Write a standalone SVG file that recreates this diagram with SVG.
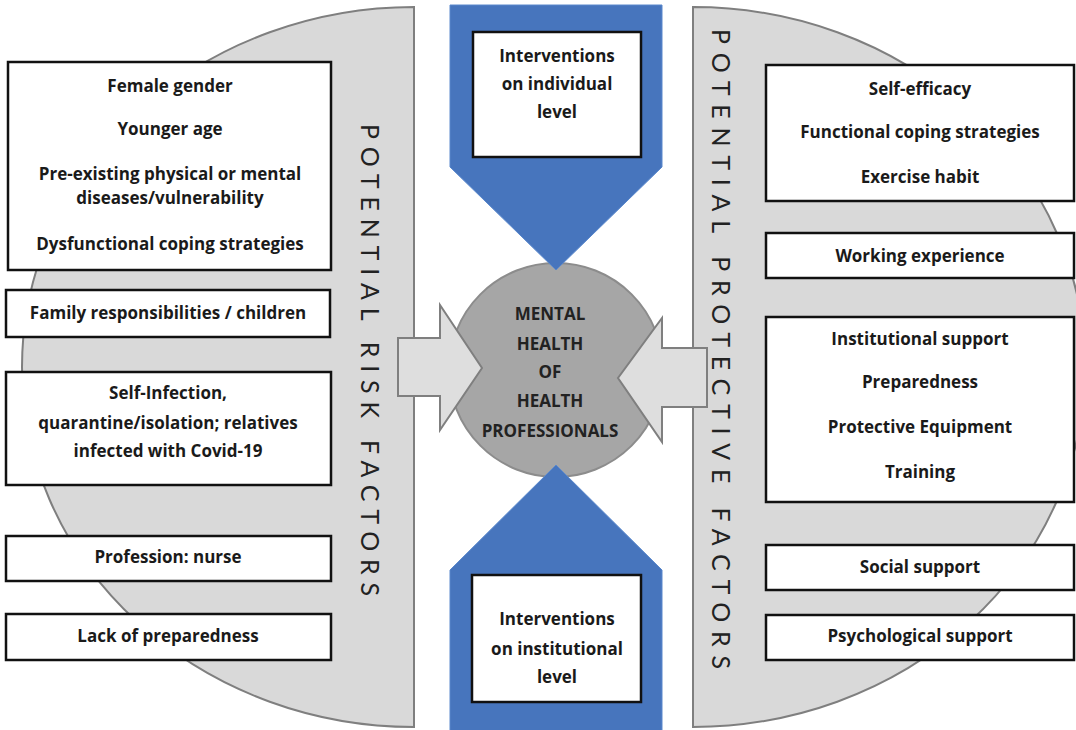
<svg xmlns="http://www.w3.org/2000/svg" width="1076" height="730" viewBox="0 0 1076 730">
  <style>
    .half { fill: #d9d9d9; stroke: #7f7f7f; stroke-width: 2; }
    .box { fill: #ffffff; stroke: #111111; stroke-width: 2.5; }
    .t { font-family: "Open Sans", "Liberation Sans", sans-serif; font-weight: bold; font-size: 17px; fill: #1a1a1a; text-anchor: middle; }
    .vt { font-family: Lato, "Liberation Sans", sans-serif; font-weight: normal; font-size: 25px; fill: #222222; text-anchor: middle; }
    .ct { font-family: "Open Sans", "Liberation Sans", sans-serif; font-weight: bold; font-size: 17px; fill: #222222; text-anchor: middle; }
    .blue { fill: #4775bd; stroke: #5a88cc; stroke-width: 1; }
    .arrow { fill: #dedede; stroke: #7f7f7f; stroke-width: 2; }
  </style>

  <!-- background half discs -->
  <g id="risk-panel">
    <path class="half" d="M414,7 A392,360 0 0 0 414,727 Z"/>
    <text class="vt" transform="translate(361,360) rotate(90)" textLength="472" lengthAdjust="spacing">POTENTIAL RISK FACTORS</text>
  </g>
  <g id="protective-panel">
    <path class="half" d="M693,7 A392,360 0 0 1 693,727 Z"/>
    <text class="vt" transform="translate(712,349) rotate(90)" textLength="640" lengthAdjust="spacing">POTENTIAL PROTECTIVE FACTORS</text>
  </g>

  <!-- central node -->
  <g id="mental-health">
    <circle cx="556" cy="370" r="107" fill="#a6a6a6" stroke="#8c8c8c" stroke-width="2"/>
  </g>

  <!-- connectors: arrows pointing at the centre -->
  <g id="connectors">
    <polygon class="arrow" points="398,338 440,338 440,305 482,368 440,430 440,396 398,396"/>
    <polygon class="arrow" points="707,348 662,348 662,318 618,378 662,442 662,407 707,407"/>
    <polygon class="blue" points="450,5 662,5 662,167 556,270 450,167"/>
    <polygon class="blue" points="556,465 662,570 662,732 450,732 450,570"/>
  </g>

  <g id="mental-health-label">
    <text class="ct" x="550" y="320">MENTAL</text>
    <text class="ct" x="550" y="350">HEALTH</text>
    <text class="ct" x="550" y="378">OF</text>
    <text class="ct" x="550" y="407">HEALTH</text>
    <text class="ct" x="550" y="437">PROFESSIONALS</text>
  </g>

  <!-- intervention nodes -->
  <g id="individual-interventions">
    <rect class="box" x="473" y="32" width="168" height="125"/>
    <text class="t" x="557" y="62">Interventions</text>
    <text class="t" x="557" y="90">on individual</text>
    <text class="t" x="557" y="118">level</text>
  </g>
  <g id="institutional-interventions">
    <rect class="box" x="472" y="575" width="169" height="127"/>
    <text class="t" x="557" y="625">Interventions</text>
    <text class="t" x="557" y="655">on institutional</text>
    <text class="t" x="557" y="683">level</text>
  </g>

  <!-- risk factors -->
  <g id="risk-personal">
    <rect class="box" x="8" y="62" width="323" height="208"/>
    <text class="t" x="170" y="92">Female gender</text>
    <text class="t" x="170" y="135">Younger age</text>
    <text class="t" x="170" y="180">Pre-existing physical or mental</text>
    <text class="t" x="170" y="204">diseases/vulnerability</text>
    <text class="t" x="170" y="250">Dysfunctional coping strategies</text>
  </g>
  <g id="risk-family">
    <rect class="box" x="6" y="290" width="324" height="47"/>
    <text class="t" x="168" y="319">Family responsibilities / children</text>
  </g>
  <g id="risk-infection">
    <rect class="box" x="6" y="372" width="325" height="113"/>
    <text class="t" x="168" y="399">Self-Infection,</text>
    <text class="t" x="168" y="429">quarantine/isolation; relatives</text>
    <text class="t" x="168" y="457">infected with Covid-19</text>
  </g>
  <g id="risk-profession">
    <rect class="box" x="6" y="536" width="325" height="45"/>
    <text class="t" x="168" y="563">Profession: nurse</text>
  </g>
  <g id="risk-preparedness">
    <rect class="box" x="6" y="614" width="325" height="46"/>
    <text class="t" x="168" y="642">Lack of preparedness</text>
  </g>

  <!-- protective factors -->
  <g id="protect-personal">
    <rect class="box" x="766" y="65" width="308" height="136"/>
    <text class="t" x="920" y="95">Self-efficacy</text>
    <text class="t" x="920" y="138">Functional coping strategies</text>
    <text class="t" x="920" y="183">Exercise habit</text>
  </g>
  <g id="protect-experience">
    <rect class="box" x="766" y="233" width="308" height="45"/>
    <text class="t" x="920" y="262">Working experience</text>
  </g>
  <g id="protect-institutional">
    <rect class="box" x="766" y="317" width="308" height="185"/>
    <text class="t" x="920" y="345">Institutional support</text>
    <text class="t" x="920" y="388">Preparedness</text>
    <text class="t" x="920" y="433">Protective Equipment</text>
    <text class="t" x="920" y="478">Training</text>
  </g>
  <g id="protect-social">
    <rect class="box" x="766" y="545" width="308" height="45"/>
    <text class="t" x="920" y="573">Social support</text>
  </g>
  <g id="protect-psychological">
    <rect class="box" x="766" y="615" width="308" height="45"/>
    <text class="t" x="920" y="642">Psychological support</text>
  </g>
</svg>
